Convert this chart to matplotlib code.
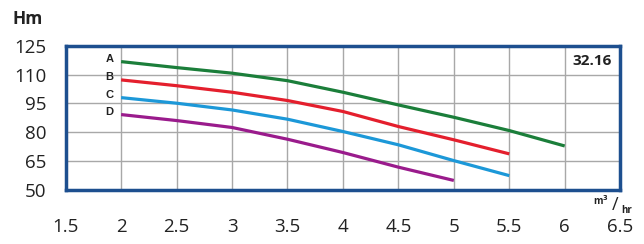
import matplotlib.pyplot as plt

# Pump curves (flow in m3/hr, head in m)
flow_a = [2, 2.5, 3, 3.5, 4, 4.5, 5, 5.5, 6]
head_a = [116.7, 113.6, 110.7, 106.8, 100.8, 94.2, 87.8, 80.9, 72.9]
flow_b = [2, 2.5, 3, 3.5, 4, 4.5, 5, 5.5]
head_b = [107.2, 104.2, 100.8, 96.5, 90.8, 83.0, 76.1, 68.8]
flow_c = [2, 2.5, 3, 3.5, 4, 4.5, 5, 5.5]
head_c = [98.0, 95.1, 91.6, 86.8, 80.4, 73.5, 65.3, 57.5]
flow_d = [2, 2.5, 3, 3.5, 4, 4.5, 5]
head_d = [89.2, 86.1, 82.5, 76.4, 69.5, 61.9, 55.0]

curve_names = ["A", "B", "C", "D"]
curve_colors = ["#1b7e3a", "#e41f2d", "#1c98d8", "#9a1b8c"]

xticks = [1.5, 2, 2.5, 3, 3.5, 4, 4.5, 5, 5.5, 6, 6.5]
yticks = [50, 65, 80, 95, 110, 125]

plt.rcParams['font.family'] = ['Open Sans', 'DejaVu Sans']

fig = plt.figure(figsize=(6.44, 2.44), dpi=100)
ax = fig.add_axes([0.102, 0.221, 0.861, 0.592])

curves = [(flow_a, head_a), (flow_b, head_b), (flow_c, head_c), (flow_d, head_d)]
for (fx, hy), name, col in zip(curves, curve_names, curve_colors):
    ax.plot(fx, hy, color=col, linewidth=2.3, solid_capstyle='butt')
    ax.text(fx[0] - 0.07, hy[0] + 1.5, name, ha='right', va='center',
            fontsize=8, fontweight='bold', color='#222222', family='Liberation Sans')

ax.set_xlim(1.5, 6.5)
ax.set_ylim(50, 125)
ax.set_xticks(xticks)
ax.set_yticks(yticks)
ax.set_xticklabels([f"{v:g}" for v in xticks])
ax.grid(True, color='#a8a8a8', linewidth=1.0)
ax.set_axisbelow(True)
ax.tick_params(length=0, labelsize=13.5, colors='#222222')
ax.tick_params(axis='y', pad=14)
ax.tick_params(axis='x', pad=20)

for sp in ax.spines.values():
    sp.set_color('#1d4f8f')
    sp.set_linewidth(2.5)

ax.text(0.985, 0.894, "32.16", transform=ax.transAxes, ha='right', va='center',
        fontsize=11, fontweight='bold', color='#222222')
fig.text(0.02, 0.924, "Hm", ha='left', va='center', fontsize=12.5,
         fontweight='bold', color='#222222')
fig.text(0.946, 0.176, r"m$^{\mathbf{3}}$", ha='right', va='center', fontsize=7,
         fontweight='bold', color='#222222')
fig.text(0.950, 0.16, "/", ha='left', va='center', fontsize=13, color='#222222')
fig.text(0.964, 0.139, "hr", ha='left', va='center', fontsize=7,
         fontweight='bold', color='#222222')

fig.savefig("out.png", dpi=100)
